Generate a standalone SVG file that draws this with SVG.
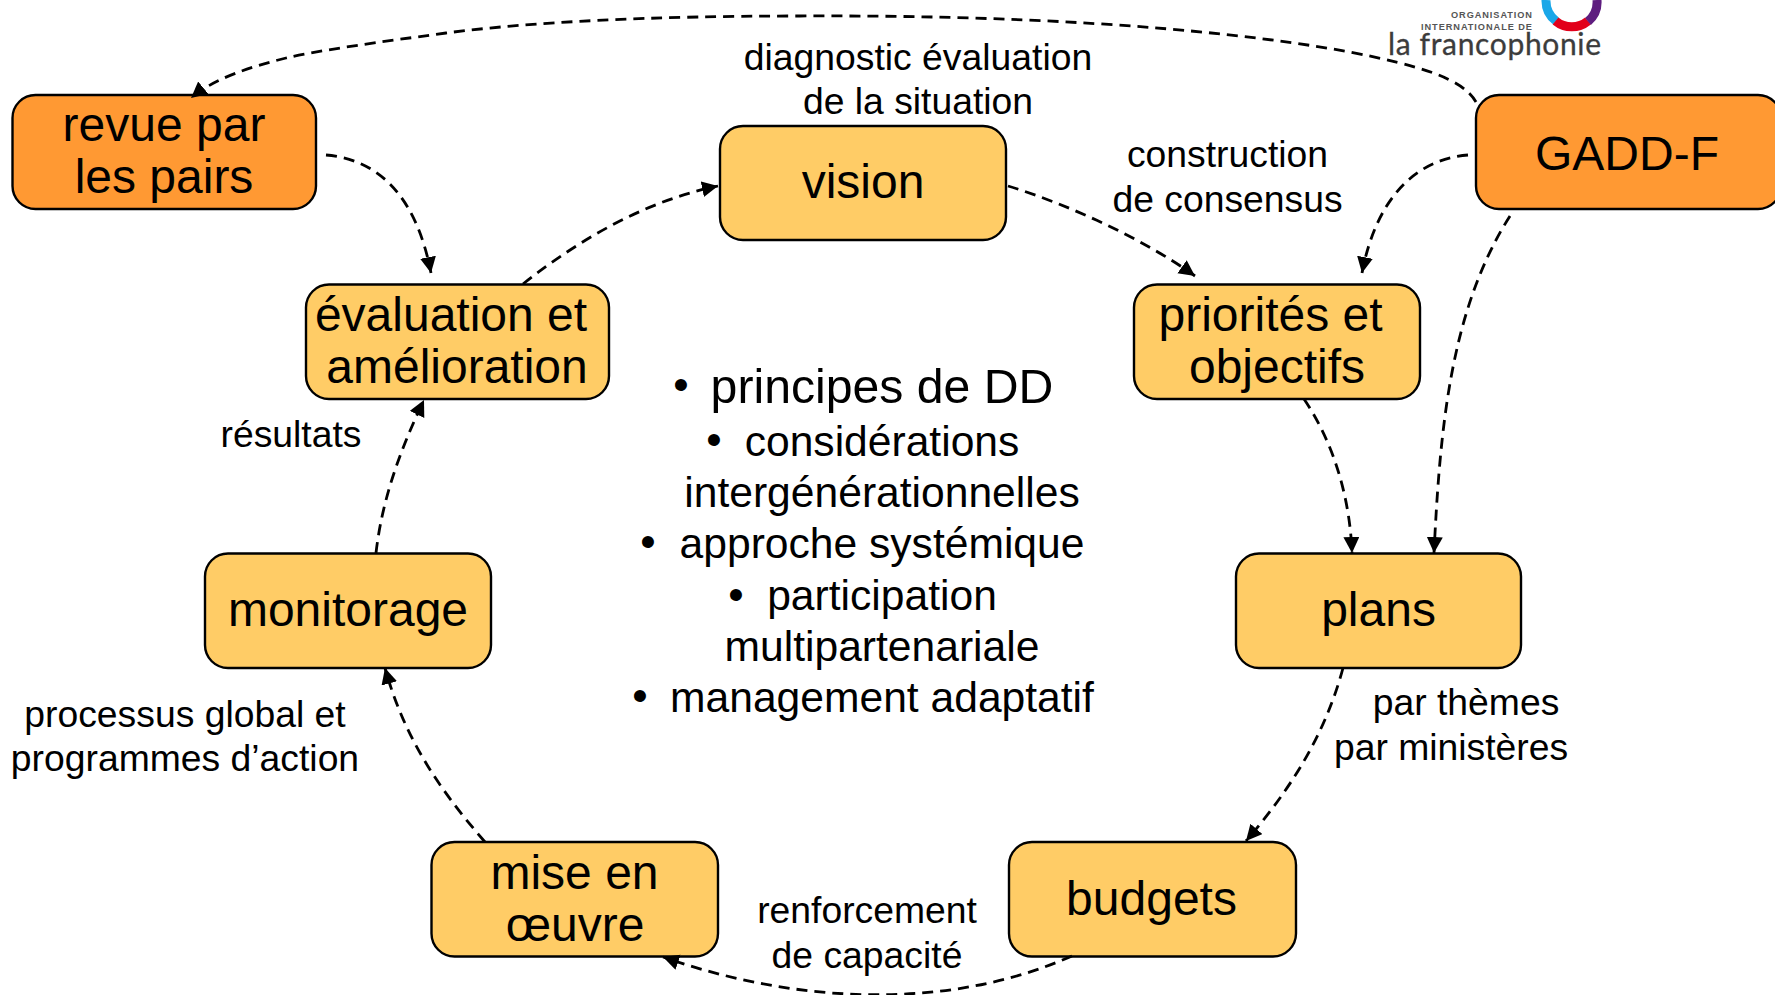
<svg xmlns="http://www.w3.org/2000/svg" width="1775" height="995" viewBox="0 0 1775 995">
<style>
text{font-family:"Liberation Sans",Arial,sans-serif;fill:#000;text-anchor:middle}
.n{font-size:48px}
.l{font-size:37.3px}
.c{font-size:42.6px}
.d{font-size:44px}
.b{stroke:#000;stroke-width:2.400}
.o{fill:#f93}
.y{fill:#fc6}
.s{font-size:9.2px;font-weight:bold;text-anchor:start;fill:#555}
#connectors path{fill:none;stroke:#000;stroke-width:2.8;stroke-dasharray:11 7;marker-end:url(#a)}
</style>
<defs><marker id="a" markerUnits="userSpaceOnUse" markerWidth="18" markerHeight="18" refX="16" refY="8" orient="auto"><path d="M0 0L16 8L0 16z" fill="#000"/></marker></defs>
<rect width="1775" height="995" fill="#fff"/>
<g id="logo">
<g fill="none" stroke-width="9">
<path d="M1546 0A25.500 25.500 0 0 0 1556 21" stroke="#1aa7e8"/>
<path d="M1555.500 21A25.500 25.500 0 0 0 1588 21" stroke="#e2001a"/>
<path d="M1588 21.500A25.500 25.500 0 0 0 1597 0" stroke="#5e1d7f"/>
</g>
<text class="s" x="1451" y="18" textLength="81" lengthAdjust="spacing">ORGANISATION</text>
<text class="s" x="1421" y="30" textLength="111" lengthAdjust="spacing">INTERNATIONALE DE</text>
<text x="1388" y="55" textLength="213" lengthAdjust="spacing" style="font-family:Lato,sans-serif;font-size:30px;text-anchor:start;fill:#3c3c3c;stroke:#3c3c3c;stroke-width:.3">la francophonie</text>
</g>
<g id="revue"><rect class="b o" x="12.500" y="95" width="303.500" height="114" rx="23"/><text class="n" x="164" y="141">revue par</text><text class="n" x="164" y="193">les pairs</text></g>
<g id="gadd"><rect class="b o" x="1476" y="95" width="305" height="114" rx="23"/><text class="n" x="1627" y="170">GADD-F</text></g>
<g id="vision"><rect class="b y" x="720" y="126" width="286" height="114" rx="23"/><text class="n" x="863" y="198">vision</text></g>
<g id="evaluation"><rect class="b y" x="306" y="284.500" width="303" height="114.500" rx="23"/><text class="n" x="451" y="331">évaluation et</text><text class="n" x="457" y="383">amélioration</text></g>
<g id="priorites"><rect class="b y" x="1134" y="284.500" width="286" height="114.500" rx="23"/><text class="n" x="1270.500" y="331">priorités et</text><text class="n" x="1277" y="383">objectifs</text></g>
<g id="monitorage"><rect class="b y" x="205" y="553.500" width="286" height="114.500" rx="23"/><text class="n" x="348" y="626">monitorage</text></g>
<g id="plans"><rect class="b y" x="1236" y="553.500" width="285" height="114.500" rx="23"/><text class="n" x="1378.500" y="626">plans</text></g>
<g id="mise"><rect class="b y" x="431.500" y="842" width="286.500" height="114.500" rx="23"/><text class="n" x="574.500" y="889">mise en</text><text class="n" x="575" y="941">œuvre</text></g>
<g id="budgets"><rect class="b y" x="1009" y="842" width="287" height="114.500" rx="23"/><text class="n" x="1151.500" y="915">budgets</text></g>
<g id="connectors">
<path d="M1476 102C1462 78 1420 66 1350 52C1200 25 1000 15 800 16C650 16 530 22 446 33C380 42 320 50 286 58C250 67 215 78 191 98"/>
<path d="M326 155C385 160 418 205 431 273"/>
<path d="M523 284C585 235 650 200 718 186"/>
<path d="M1008 186C1070 205 1145 240 1195 276"/>
<path d="M1468 155C1410 160 1375 205 1362 273"/>
<path d="M1510 216C1450 310 1440 430 1434 553"/>
<path d="M1304 399C1335 445 1350 500 1352 553"/>
<path d="M1343 668C1325 735 1290 790 1246 841"/>
<path d="M1072 956C950 1010 800 1005 663 957"/>
<path d="M485 842C440 790 405 740 385 668"/>
<path d="M376 553C382 500 400 450 424 400"/>
</g>
<g id="labels">
<text class="l" x="918" y="70">diagnostic évaluation</text>
<text class="l" x="918" y="114">de la situation</text>
<text class="l" x="1227.500" y="167">construction</text>
<text class="l" x="1227.500" y="212">de consensus</text>
<text class="l" x="291" y="447">résultats</text>
<text class="l" x="185" y="727">processus global et</text>
<text class="l" x="185" y="771">programmes d’action</text>
<text class="l" x="1466" y="715">par thèmes</text>
<text class="l" x="1451" y="760">par ministères</text>
<text class="l" x="867" y="923">renforcement</text>
<text class="l" x="867" y="968">de capacité</text>
</g>
<g id="principes">
<text x="882" y="403" style="font-size:48.200px">principes de DD</text>
<text x="882" y="456" class="c">considérations</text>
<text x="882" y="507" class="c">intergénérationnelles</text>
<text x="882" y="558" class="c">approche systémique</text>
<text x="882" y="610" class="c">participation</text>
<text x="882" y="661" class="c">multipartenariale</text>
<text x="882" y="712" class="c">management adaptatif</text>
<text x="681" y="399.500" class="d">•</text>
<text x="714" y="454.500" class="d">•</text>
<text x="648" y="556.500" class="d">•</text>
<text x="736" y="609.500" class="d">•</text>
<text x="640" y="710.500" class="d">•</text>
</g>
</svg>
